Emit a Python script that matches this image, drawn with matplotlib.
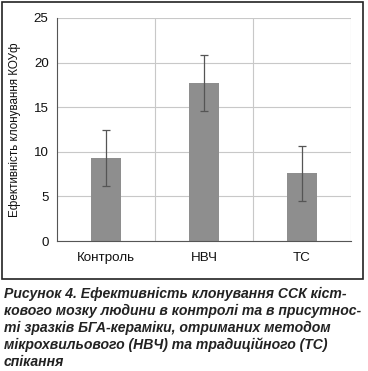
import matplotlib
matplotlib.use("Agg")
from matplotlib import pyplot as plt
from matplotlib.patches import Rectangle

categories = ["Контроль", "НВЧ", "ТС"]
values = [9.3, 17.7, 7.6]
errors = [3.1, 3.1, 3.1]
y_ticks = [0, 5, 10, 15, 20, 25]
y_label = "Ефективність клонування КОУф"
caption = [
    "Рисунок 4. Ефективність клонування ССК кіст-",
    "кового мозку людини в контролі та в присутнос-",
    "ті зразків БГА-кераміки, отриманих методом",
    "мікрохвильового (НВЧ) та традиційного (ТС)",
    "спікання",
]

plt.rcParams["font.family"] = ["Liberation Sans", "DejaVu Sans"]

W, H = 368, 371
fig = plt.figure(figsize=(W / 100, H / 100), dpi=100)

# frame around the chart
fig.patches.append(Rectangle((1.5 / W, (H - 278.5) / H), 361.5 / W, 277 / H,
                             transform=fig.transFigure, fill=False,
                             edgecolor="#222222", linewidth=1.2))

ax = fig.add_axes([57 / W, (H - 241) / H, 294 / W, 223 / H])
x = list(range(len(categories)))
ax.bar(x, values, width=0.31, color="#8e8e8e", zorder=2)
ax.errorbar(x, values, yerr=errors, fmt="none", ecolor="#555555",
            elinewidth=0.9, capsize=3, capthick=0.9, zorder=3)

ax.set_xlim(-0.5, len(categories) - 0.5)
ax.set_ylim(0, 25)
ax.set_yticks(y_ticks)
ax.set_xticks(x)
ax.set_xticklabels(categories, fontsize=9.6)
ax.tick_params(axis="y", labelsize=9.6, length=0, pad=6, colors="#111111")
ax.tick_params(axis="x", length=0, pad=8, colors="#111111")
ax.set_xticks([i + 0.5 for i in x], minor=True)
ax.tick_params(axis="x", which="minor", length=0)
ax.grid(axis="y", color="#c8c8c8", linewidth=0.8, zorder=0)
ax.grid(axis="x", which="minor", color="#c8c8c8", linewidth=0.8, zorder=0)
ax.set_axisbelow(True)
ax.spines["top"].set_visible(False)
ax.spines["right"].set_visible(False)
ax.spines["left"].set_color("#555555")
ax.spines["bottom"].set_color("#555555")
ax.set_ylabel(y_label, fontsize=8.4, color="#111111", labelpad=9)

for i, line in enumerate(caption):
    fig.text(4 / W, 1 - (298 + 17 * i) / H, line, fontsize=10.1,
             fontweight="bold", fontstyle="italic", color="#222222",
             va="baseline", ha="left")

fig.savefig("out.png", dpi=100)
